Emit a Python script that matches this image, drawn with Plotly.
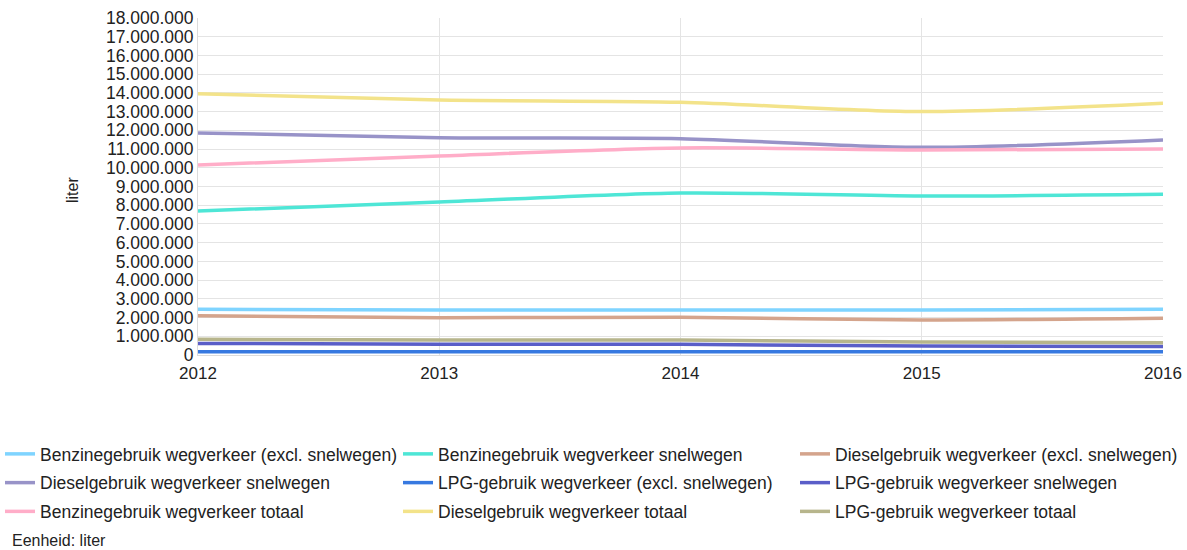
import plotly.graph_objects as go

years = [2012, 2013, 2014, 2015, 2016]

series_names = [
    "Benzinegebruik wegverkeer (excl. snelwegen)",
    "Benzinegebruik wegverkeer snelwegen",
    "Dieselgebruik wegverkeer (excl. snelwegen)",
    "Dieselgebruik wegverkeer snelwegen",
    "LPG-gebruik wegverkeer (excl. snelwegen)",
    "LPG-gebruik wegverkeer snelwegen",
    "Benzinegebruik wegverkeer totaal",
    "Dieselgebruik wegverkeer totaal",
    "LPG-gebruik wegverkeer totaal",
]

benzine_excl = [2440000, 2410000, 2400000, 2400000, 2440000]
benzine_snel = [7690000, 8170000, 8650000, 8490000, 8580000]
diesel_excl = [2100000, 1990000, 2010000, 1870000, 1960000]
diesel_snel = [11860000, 11600000, 11550000, 11090000, 11490000]
lpg_excl = [180000, 175000, 172000, 170000, 168000]
lpg_snel = [620000, 570000, 570000, 480000, 450000]
benzine_tot = [10150000, 10630000, 11060000, 10950000, 11000000]
diesel_tot = [13950000, 13620000, 13500000, 13000000, 13440000]
lpg_tot = [840000, 800000, 800000, 690000, 660000]

series_values = [benzine_excl, benzine_snel, diesel_excl, diesel_snel,
                 lpg_excl, lpg_snel, benzine_tot, diesel_tot, lpg_tot]

colors = ["#7fd4ff", "#4ee6d6", "#d4a48c", "#9893c8", "#3779e0",
          "#5a5ec8", "#ffadc8", "#f3e38a", "#b7b58c"]

y_ticks = list(range(0, 18000001, 1000000))

W, H = 1187, 550
ML, MR, MT, MB = 198, 24, 18, 195
PW, PH = W - ML - MR, H - MT - MB

# legend laid out in three columns, filled row by row
legend_ids = ["legend", "legend2", "legend3"]
column_x = [0, 398, 795]

fig = go.Figure()
for i, (name, vals, col) in enumerate(zip(series_names, series_values, colors)):
    fig.add_trace(go.Scatter(
        x=years, y=vals, name=name, mode="lines",
        line=dict(color=col, width=3.5, shape="spline", smoothing=0.8),
        legend=legend_ids[i % 3], legendgroup=f"g{i}",
        hoverinfo="x+y+name",
    ))

FAMILY = "Liberation Sans, Arial, sans-serif"
font = dict(family=FAMILY, size=17, color="#222222")

legend_cfg = {}
for lid, lx in zip(legend_ids, column_x):
    legend_cfg[lid] = dict(
        orientation="v", xref="container", yref="container",
        x=lx / W, xanchor="left", y=1 - 436 / H, yanchor="top",
        tracegroupgap=3,
        font=dict(family=FAMILY, size=17.5, color="#222222"),
        itemwidth=30, bgcolor="rgba(0,0,0,0)",
    )


def px_to_paper(px, py):
    return (px - ML) / PW, (H - MB - py) / PH


title_x, title_y = px_to_paper(72, 190)
note_x, note_y = px_to_paper(10, 540)

fig.update_layout(
    width=W, height=H,
    margin=dict(l=ML, r=MR, t=MT, b=MB, autoexpand=False),
    paper_bgcolor="white", plot_bgcolor="white",
    separators=",.",
    font=font,
    xaxis=dict(
        range=[2012, 2016], tickvals=years, ticktext=[str(y) for y in years],
        showgrid=True, gridcolor="#e4e4e4", gridwidth=1,
        showline=True, linecolor="#dcdcdc", zeroline=False,
        ticks="", tickfont=dict(size=17), ticklabelstandoff=3,
    ),
    yaxis=dict(
        range=[0, 18000000], tickvals=y_ticks, tickformat=",d",
        showgrid=True, gridcolor="#e4e4e4", gridwidth=1,
        showline=True, linecolor="#dcdcdc", zeroline=False,
        ticks="", tickfont=dict(size=17.5),
    ),
    annotations=[
        dict(text="liter", xref="paper", yref="paper",
             x=title_x, y=title_y, xanchor="center", yanchor="middle",
             textangle=-90, showarrow=False,
             font=dict(size=16, color="#222222")),
        dict(text="Eenheid: liter", xref="paper", yref="paper",
             x=note_x, y=note_y, xanchor="left", yanchor="middle",
             showarrow=False, font=dict(size=16, color="#222222")),
    ],
    **legend_cfg,
)

fig.write_html("out.html")
